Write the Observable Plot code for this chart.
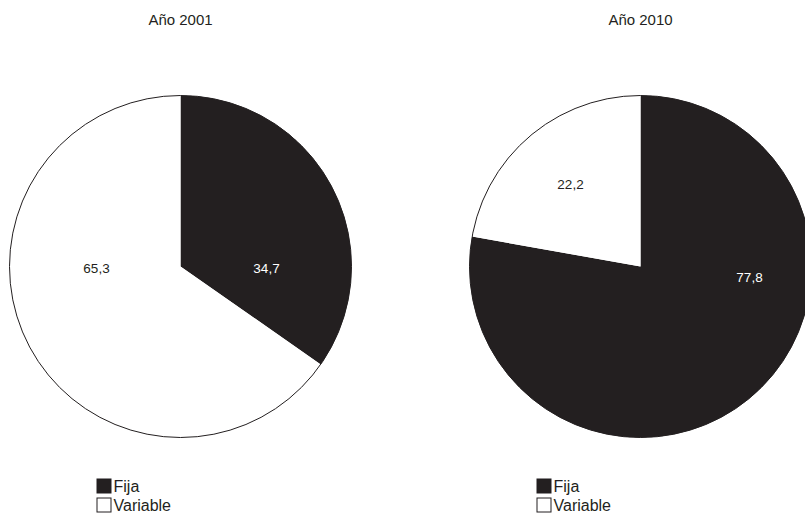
<!DOCTYPE html>
<html>
<head>
<meta charset="utf-8">
<script src="https://cdn.jsdelivr.net/npm/d3@7"></script>
<script src="https://cdn.jsdelivr.net/npm/@observablehq/plot@0.6"></script>
<style>
  html, body { margin: 0; padding: 0; background: #fff; }
  #chart svg { display: block; }
</style>
</head>
<body>
<div id="chart"></div>
<script>
// ---- data ----
const years = ["Año 2001", "Año 2010"];
const categories = ["Fija", "Variable"];
const fija = [34.7, 77.8];
const variable = [65.3, 22.2];

// ---- layout (code, not data) ----
const W = 805, H = 515;
const R = 171;
const centers = [[180, 266], [640, 266]];
const legendLeft = [97, 537];
const INK = "#231f20";
const colors = {Fija: INK, Variable: "#ffffff"};
// label offsets from pie centre (px) per pie / category
const labelOffset = [
  {Fija: [86, 2], Variable: [-84, 2]},
  {Fija: [109, 11], Variable: [-70, -82]}
];

const fmt = v => v.toFixed(1).replace(".", ",");

// build wedge polygons
const wedgePts = [];
const labels = [];
years.forEach((yr, i) => {
  const [cx, cy] = centers[i];
  const vals = {Fija: fija[i], Variable: variable[i]};
  let start = 0;
  categories.forEach(cat => {
    const sweep = vals[cat] / 100 * 360;
    const id = yr + "|" + cat;
    wedgePts.push({id, cat, x: cx, y: cy});
    const n = Math.max(2, Math.ceil(sweep * 2));
    for (let k = 0; k <= n; k++) {
      const a = (start + sweep * k / n) * Math.PI / 180;
      wedgePts.push({id, cat, x: cx + R * Math.sin(a), y: cy - R * Math.cos(a)});
    }
    const [dx, dy] = labelOffset[i][cat];
    labels.push({text: fmt(vals[cat]), cat, x: cx + dx, y: cy + dy});
    start += sweep;
  });
});

const titles = years.map((t, i) => ({text: t, x: centers[i][0], y: 20}));
const outlines = years.map((t, i) => ({x: centers[i][0], y: centers[i][1]}));

const legendRects = [];
const legendTexts = [];
years.forEach((yr, i) => {
  const lx = legendLeft[i];
  categories.forEach((cat, j) => {
    const y0 = 479 + j * 19;
    legendRects.push({cat, x1: lx, x2: lx + 14, y1: y0, y2: y0 + 14});
    legendTexts.push({text: cat, x: lx + 16, y: y0 + 7.5});
  });
});

const chart = Plot.plot({
  width: W,
  height: H,
  margin: 0,
  x: {domain: [0, W], range: [0, W], axis: null},
  y: {domain: [0, H], range: [0, H], axis: null},
  style: {fontFamily: "'Liberation Sans', Arial, Helvetica, sans-serif", color: INK, background: "#fff"},
  marks: [
    Plot.line(wedgePts, {x: "x", y: "y", z: "id", curve: "linear-closed",
      fill: d => colors[d.cat], stroke: "none"}),
    Plot.dot(outlines, {x: "x", y: "y", r: R, fill: "none", stroke: INK, strokeWidth: 1}),
    Plot.text(labels, {x: "x", y: "y", text: "text", fontSize: 13.5,
      fill: d => d.cat === "Fija" ? "#ffffff" : INK}),
    Plot.text(titles, {x: "x", y: "y", text: "text", fontSize: 15, fill: INK}),
    Plot.rect(legendRects, {x1: "x1", x2: "x2", y1: "y1", y2: "y2",
      fill: d => colors[d.cat], stroke: INK, strokeWidth: 1}),
    Plot.text(legendTexts, {x: "x", y: "y", text: "text", fontSize: 16, textAnchor: "start", fill: INK})
  ]
});
document.getElementById("chart").appendChild(chart);
</script>
</body>
</html>
